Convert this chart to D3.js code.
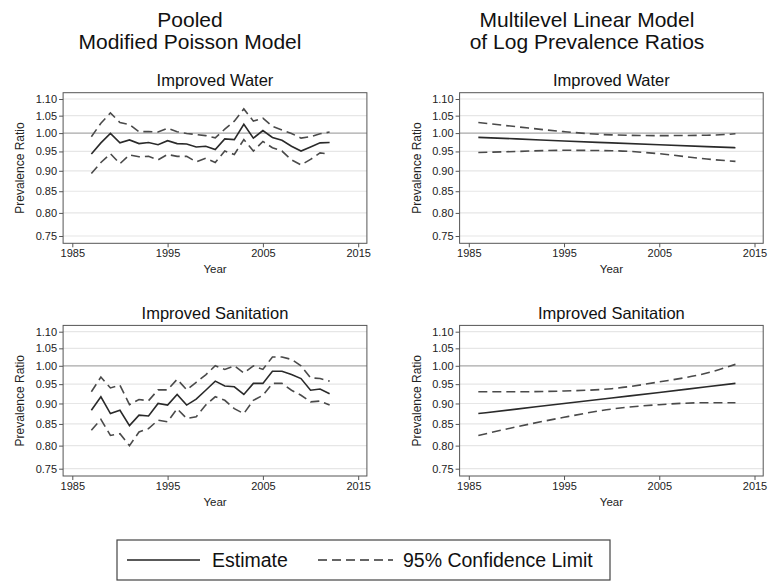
<!DOCTYPE html>
<html>
<head>
<meta charset="utf-8">
<script src="https://cdn.jsdelivr.net/npm/d3@7"></script>
<style>
  html, body { margin: 0; padding: 0; background: #fff; }
  svg { display: block; font-family: "Liberation Sans", Arial, Helvetica, sans-serif; }
</style>
</head>
<body>
<svg id="chart" width="770" height="581"></svg>
<script>
// ---------- data ----------
const yTicks = [1.10, 1.05, 1.00, 0.95, 0.90, 0.85, 0.80, 0.75];
const xTicks = [1985, 1995, 2005, 2015];

const columnTitles = [["Pooled", "Modified Poisson Model"], ["Multilevel Linear Model", "of Log Prevalence Ratios"]];
const rowTitles = ["Improved Water", "Improved Sanitation"];

// Pooled modified Poisson: yearly estimates 1987–2012
const pooledYears = [1987,1988,1989,1990,1991,1992,1993,1994,1995,1996,1997,1998,1999,2000,2001,2002,2003,2004,2005,2006,2007,2008,2009,2010,2011,2012];

const pooledWaterEst   = [0.943,0.973,0.999,0.973,0.981,0.971,0.974,0.968,0.979,0.971,0.970,0.962,0.964,0.955,0.984,0.982,1.025,0.986,1.007,0.988,0.980,0.964,0.951,0.962,0.973,0.974];
const pooledWaterUpper = [0.990,1.028,1.058,1.030,1.024,1.004,1.004,1.003,1.014,1.004,0.999,0.996,0.993,0.987,1.011,1.034,1.070,1.034,1.043,1.019,1.009,0.999,0.986,0.990,0.998,1.003];
const pooledWaterLower = [0.893,0.921,0.944,0.918,0.941,0.936,0.937,0.928,0.942,0.937,0.937,0.923,0.932,0.921,0.951,0.942,0.982,0.951,0.977,0.960,0.951,0.928,0.915,0.929,0.946,0.943];

const pooledSanEst   = [0.883,0.917,0.875,0.883,0.846,0.871,0.869,0.900,0.896,0.923,0.896,0.911,0.934,0.958,0.945,0.943,0.923,0.952,0.952,0.985,0.985,0.976,0.965,0.934,0.937,0.925];
const pooledSanUpper = [0.930,0.969,0.940,0.947,0.897,0.910,0.907,0.935,0.935,0.963,0.935,0.955,0.975,1.000,0.990,1.000,0.980,1.000,0.990,1.025,1.025,1.018,1.000,0.967,0.965,0.958];
const pooledSanLower = [0.835,0.861,0.823,0.827,0.800,0.831,0.839,0.859,0.855,0.887,0.863,0.867,0.896,0.917,0.908,0.887,0.875,0.908,0.921,0.952,0.952,0.934,0.921,0.904,0.906,0.896];

// Multilevel linear model: fitted trend 1986–2013
const mlYears = [1986,1990,1995,2000,2005,2010,2013];

const mlWaterEst   = [0.988,0.984,0.978,0.973,0.968,0.963,0.960];
const mlWaterUpper = [1.030,1.018,1.004,0.995,0.993,0.994,0.998];
const mlWaterLower = [0.947,0.950,0.953,0.952,0.944,0.930,0.924];

const mlSanEst   = [0.875,0.886,0.900,0.914,0.928,0.943,0.952];
const mlSanUpper = [0.930,0.930,0.932,0.938,0.956,0.980,1.004];
const mlSanLower = [0.823,0.843,0.866,0.886,0.897,0.902,0.902];

const legendLabels = ["Estimate", "95% Confidence Limit"];

// ---------- layout ----------
const svg = d3.select("#chart");
const colX = [[72.3, 358.2], [468.8, 754.5]];   // x-range for 1985..2015
const rowY = [[99, 236], [331.7, 468.7]];        // y-range for 1.10..0.75

const panels = [
  {col: 0, row: 0, years: pooledYears, est: pooledWaterEst, up: pooledWaterUpper, lo: pooledWaterLower, curve: d3.curveLinear},
  {col: 0, row: 1, years: pooledYears, est: pooledSanEst, up: pooledSanUpper, lo: pooledSanLower, curve: d3.curveLinear},
  {col: 1, row: 0, years: mlYears, est: mlWaterEst, up: mlWaterUpper, lo: mlWaterLower, curve: d3.curveMonotoneX},
  {col: 1, row: 1, years: mlYears, est: mlSanEst, up: mlSanUpper, lo: mlSanLower, curve: d3.curveMonotoneX}
];

// column titles
columnTitles.forEach((lines, c) => {
  const cx = c === 0 ? 190 : 587;
  lines.forEach((t, i) => {
    svg.append("text").attr("x", cx).attr("y", 27 + i * 22)
      .attr("text-anchor", "middle").attr("font-size", 21).attr("fill", "#111").text(t);
  });
});

panels.forEach(p => {
  const x = d3.scaleLinear().domain([1985, 2015]).range(colX[p.col]);
  const y = d3.scaleLog().domain([1.10, 0.75]).range(rowY[p.row]);
  const fx0 = x(1985) - 9.2, fx1 = x(2015) + 8.7;
  const fy0 = y(1.10) - 6.3, fy1 = y(0.75) + 7.3;
  const g = svg.append("g");

  // grid
  g.selectAll("line.grid").data(yTicks).join("line")
    .attr("x1", fx0).attr("x2", fx1)
    .attr("y1", d => y(d)).attr("y2", d => y(d))
    .attr("stroke", d => d === 1.00 ? "#a8a8a8" : "#e6e6e6")
    .attr("stroke-width", d => d === 1.00 ? 1.2 : 1.2);

  // frame
  g.append("rect").attr("x", fx0).attr("y", fy0)
    .attr("width", fx1 - fx0).attr("height", fy1 - fy0)
    .attr("fill", "none").attr("stroke", "#555").attr("stroke-width", 1);

  // y axis
  const ya = g.append("g").attr("transform", `translate(${fx0},0)`)
    .call(d3.axisLeft(y).tickValues(yTicks).tickFormat(d3.format(".2f")).tickSize(4).tickPadding(2));
  ya.select(".domain").remove();
  ya.selectAll("line").attr("stroke", "#555");
  ya.selectAll("text").attr("font-size", 11).attr("fill", "#222").attr("font-family", null);

  // x axis
  const xa = g.append("g").attr("transform", `translate(0,${fy1})`)
    .call(d3.axisBottom(x).tickValues(xTicks).tickFormat(d3.format("d")).tickSize(4).tickPadding(2));
  xa.select(".domain").remove();
  xa.selectAll("line").attr("stroke", "#555");
  xa.selectAll("text").attr("font-size", 11).attr("fill", "#222").attr("font-family", null);

  // axis titles
  g.append("text").attr("x", (fx0 + fx1) / 2).attr("y", fy1 + 30)
    .attr("text-anchor", "middle").attr("font-size", 11.5).attr("fill", "#222").text("Year");
  g.append("text").attr("transform", `translate(${fx0 - 39},${(fy0 + fy1) / 2}) rotate(-90)`)
    .attr("text-anchor", "middle").attr("font-size", 12).attr("fill", "#222").text("Prevalence Ratio");

  // panel subtitle
  g.append("text").attr("x", (fx0 + fx1) / 2).attr("y", fy0 - 6.5)
    .attr("text-anchor", "middle").attr("font-size", 16.5).attr("fill", "#111").text(rowTitles[p.row]);

  // lines
  const line = d3.line().x(d => x(d[0])).y(d => y(d[1])).curve(p.curve);
  const series = [
    {vals: p.up, dash: "9,5", color: "#4a4a4a"},
    {vals: p.lo, dash: "9,5", color: "#4a4a4a"},
    {vals: p.est, dash: null, color: "#2a2a2a"}
  ];
  series.forEach(s => {
    g.append("path").datum(p.years.map((yr, i) => [yr, s.vals[i]]))
      .attr("d", line).attr("fill", "none")
      .attr("stroke", s.color).attr("stroke-width", 1.6)
      .attr("stroke-dasharray", s.dash);
  });
});

// legend
const lg = svg.append("g");
lg.append("rect").attr("x", 117).attr("y", 540).attr("width", 493).attr("height", 40)
  .attr("fill", "#fff").attr("stroke", "#444").attr("stroke-width", 1.2);
lg.append("line").attr("x1", 127).attr("x2", 200).attr("y1", 560).attr("y2", 560)
  .attr("stroke", "#222").attr("stroke-width", 1.6);
lg.append("text").attr("x", 212).attr("y", 567).attr("font-size", 19.5).attr("fill", "#111").text(legendLabels[0]);
lg.append("line").attr("x1", 318).attr("x2", 393).attr("y1", 560).attr("y2", 560)
  .attr("stroke", "#333").attr("stroke-width", 1.6).attr("stroke-dasharray", "9,5");
lg.append("text").attr("x", 403).attr("y", 567).attr("font-size", 19.5).attr("fill", "#111").text(legendLabels[1]);
</script>
</body>
</html>
